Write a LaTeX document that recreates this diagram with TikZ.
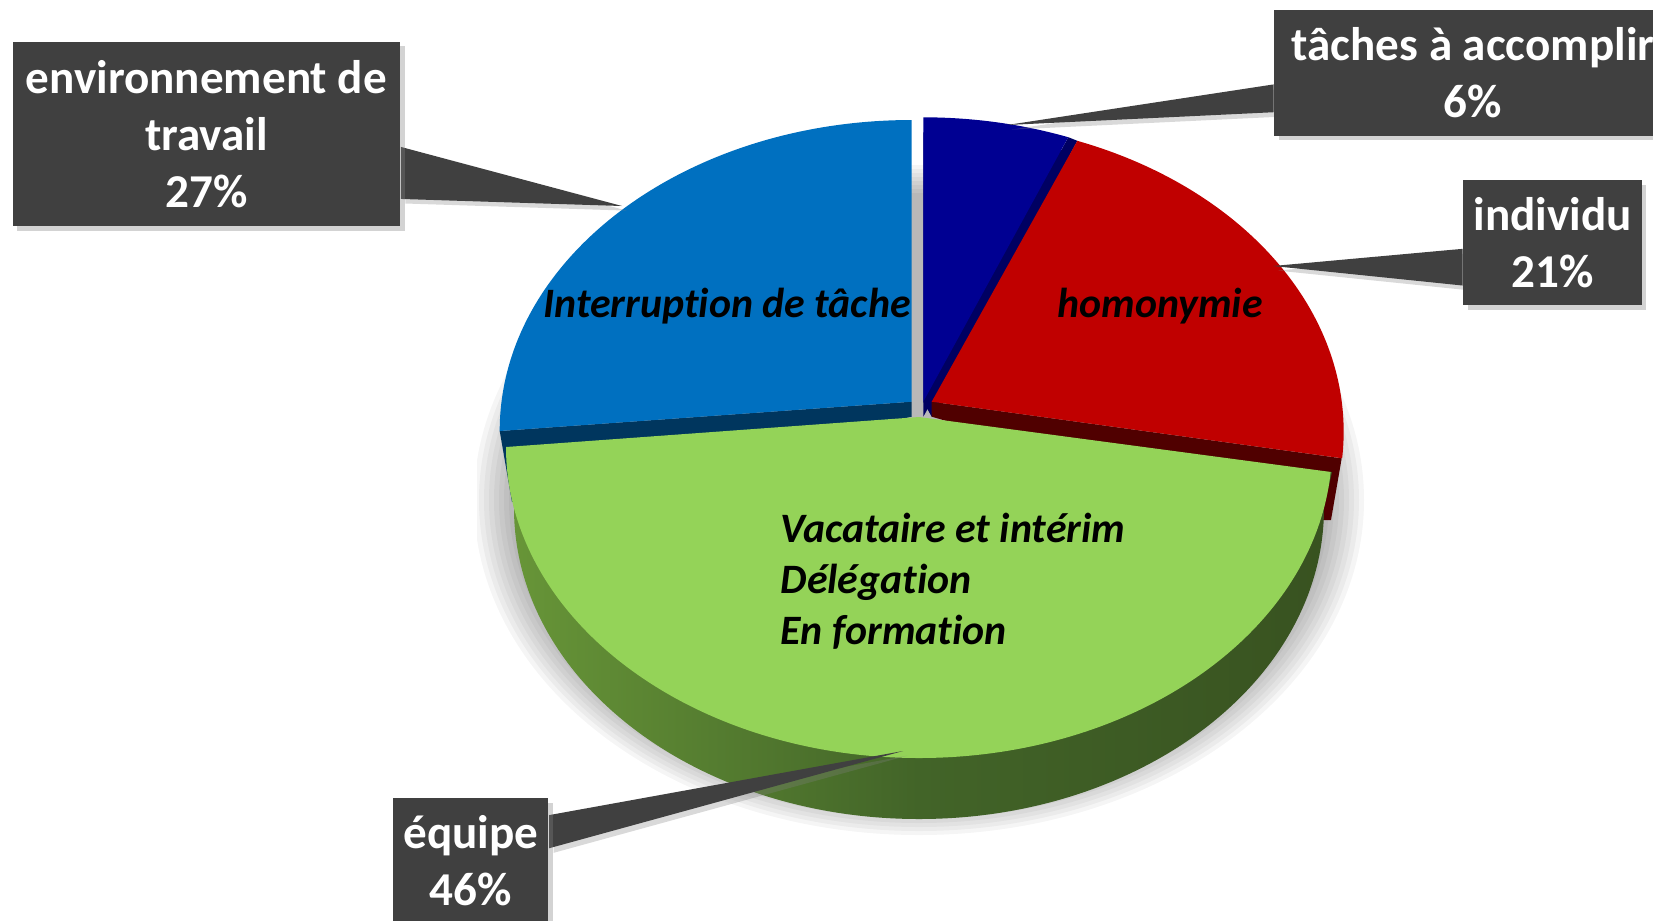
\documentclass[tikz,border=0pt]{standalone}
\usepackage{fontspec}
\setmainfont[Ligatures = NoCommon]{Carlito}
\usetikzlibrary{calc,shadows}
\pgfdeclarelayer{pie}
\pgfdeclarelayer{pointers}
\pgfsetlayers{pie,pointers,main}
\definecolor{boxgray}{RGB}{64,64,64}
\definecolor{sliceblue}{RGB}{0,112,192}
\definecolor{sliceblueside}{RGB}{0,54,94}
\definecolor{slicenavy}{RGB}{0,0,146}
\definecolor{slicenavyside}{RGB}{0,0,98}
\definecolor{slicered}{RGB}{192,0,0}
\definecolor{sliceredside}{RGB}{80,0,0}
\definecolor{slicegreen}{RGB}{148,211,88}
\definecolor{greensideL}{RGB}{104,150,56}
\definecolor{greensideM}{RGB}{66,100,40}
\definecolor{greensideR}{RGB}{56,82,32}
\begin{document}
\begin{tikzpicture}[
  x = 0.01cm, y = -0.01cm,
  labelbox/.style = {fill = boxgray, text = white, align = center, inner sep = 0pt,
                     font = \bfseries\fontsize{13.4}{16.2}\selectfont,
                     drop shadow = {shadow xshift = 1.3pt, shadow yshift = -1.3pt, opacity = 0.35}},
  pointer/.style = {fill = boxgray,
                    drop shadow = {shadow xshift = 1.3pt, shadow yshift = -1.3pt, opacity = 0.3}},
  slicetext/.style = {font = \bfseries\itshape\fontsize{11.9}{14.5}\selectfont, inner sep = 0pt},
  ]
  \useasboundingbox (0,0) rectangle (1653,920);
  \clip (0,0) rectangle (1653,920);

  \begin{pgfonlayer}{pie}
    % soft shadow under the pie
    \begin{scope}
      \clip (477,100) rectangle (1368,837);
      \foreach \k in {0,...,7}
        \fill[black, opacity = 0.04] (919,500) ellipse [x radius = 445-5*\k, y radius = 335-4*\k];
    \end{scope}

    % blue slice
    \fill[sliceblueside] (499.7,431) -- (911.7,401.7) -- (911.7,416.7) -- (512,502) -- cycle;
    \fill[sliceblue] (911.7,401.7) -- (499.7,431)
      arc [start angle = 180, end angle = 270, x radius = 412, y radius = 311] -- cycle;

    % navy slice
    \fill[slicenavyside] (923.3,416.7) -- (923.3,132.3)
      arc [start angle = 270, end angle = 290.6, x radius = 412, y radius = 311] -- cycle;
    \fill[slicenavyside] (923.3,401.7) -- (1068.3,137.2) -- (1077.3,140.8) -- (931.7,416.7) -- cycle;
    \fill[slicenavy] (923.3,401.7) -- (923.3,117.3)
      arc [start angle = 270, end angle = 290.6, x radius = 412, y radius = 311] -- cycle;

    % red slice
    \fill[sliceredside] (931.7,401.7) -- (1341.7,458.3) -- (1331,520) -- (1290,520) -- (931.7,416.7) -- cycle;
    \fill[slicered] (931.7,401.7) -- (1077.3,140.8)
      arc [start angle = 290.7, end angle = 364.9, x radius = 412, y radius = 311] -- cycle;

    % green slice
    \shade[left color = greensideL, right color = greensideR, middle color = greensideM]
      (506,447) -- (514,508)
      arc [start angle = 180, end angle = 0, x radius = 405, y radius = 311] -- (1332,472) -- cycle;
    \fill[slicegreen] (919,417) -- (506,447)
      arc [start angle = 180, end angle = 4.6, x radius = 413, y radius = 311] -- cycle;

    % texts on the slices
    \node[slicetext] (interruptlabel) at (727,306) {Interruption de tâche};
    \node[slicetext] (homonymielabel) at (1160,306) {homonymie};
    \node[slicetext, anchor = west, align = left] (equipelabel) at (780,581)
      {Vacataire et intérim\\Délégation\\En formation};
  \end{pgfonlayer}

  % callouts
  \coordinate (envtip) at (622,206);
  \coordinate (tachestip) at (1007,125);
  \coordinate (individutip) at (1273,266);
  \coordinate (equipetip) at (903,751);

  \node[labelbox, minimum width = 3.873cm, minimum height = 1.843cm] (envbox) at (206.4,133.9)
    {environnement de\\travail\\27\%};
  \node[labelbox, minimum width = 3.97cm, minimum height = 1.25cm] (tachesbox) at (1473,73)
    {tâches à accomplir\\6\%};
  \node[labelbox, minimum width = 1.784cm, minimum height = 1.25cm] (individubox) at (1552.5,242.5)
    {individu\\21\%};
  \node[labelbox, minimum width = 1.55cm, minimum height = 1.26cm] (equipebox) at (470.8,861)
    {équipe\\46\%};

  \begin{pgfonlayer}{pointers}
    \fill[pointer] ($(envbox.south east)!0.43!(envbox.north east)$) -- (envtip)
      -- ($(envbox.south east)!0.15!(envbox.north east)$) -- cycle;
    \fill[pointer] ($(tachesbox.north west)!0.59!(tachesbox.south west)$) -- (tachestip)
      -- ($(tachesbox.north west)!0.81!(tachesbox.south west)$) -- cycle;
    \fill[pointer] ($(individubox.north west)!0.55!(individubox.south west)$) -- (individutip)
      -- ($(individubox.north west)!0.84!(individubox.south west)$) -- cycle;
    \fill[pointer] ($(equipebox.north east)!0.14!(equipebox.south east)$) -- (equipetip)
      -- ($(equipebox.north east)!0.40!(equipebox.south east)$) -- cycle;
  \end{pgfonlayer}
\end{tikzpicture}
\end{document}
